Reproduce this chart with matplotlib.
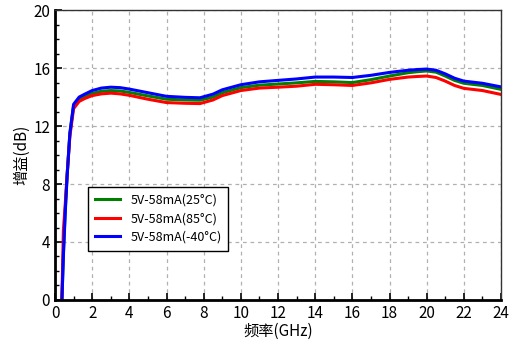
import matplotlib.pyplot as plt
from matplotlib.ticker import MultipleLocator

plt.rcParams['font.family'] = ['Noto Sans CJK SC', 'DejaVu Sans']

freq = [0.36, 0.45, 0.55, 0.65, 0.8, 1.0, 1.3, 1.6, 2.0, 2.5, 3.0, 3.5, 4, 5, 6, 7, 7.8,
        8.5, 9, 10, 11, 12, 13, 14, 15, 16, 17, 18, 19, 19.5, 20, 20.5, 21, 21.5, 22, 23, 24]

gain_25 = [-0.5, 3.2, 6.2, 8.6, 11.5, 13.4, 13.85, 14.05, 14.25, 14.4, 14.45, 14.42, 14.32,
           14.08, 13.85, 13.8, 13.78, 14.0, 14.3, 14.65, 14.82, 14.9, 14.98, 15.08, 15.05,
           15.0, 15.2, 15.45, 15.68, 15.75, 15.8, 15.72, 15.45, 15.15, 14.95, 14.8, 14.53]
gain_85 = [-0.5, 4.8, 6.6, 8.6, 11.3, 13.2, 13.7, 13.9, 14.1, 14.22, 14.27, 14.22, 14.12,
           13.85, 13.62, 13.57, 13.55, 13.8, 14.1, 14.45, 14.62, 14.68, 14.75, 14.88, 14.85,
           14.8, 14.98, 15.22, 15.38, 15.42, 15.45, 15.35, 15.1, 14.8, 14.6, 14.45, 14.18]
gain_m40 = [-0.5, 3.0, 6.0, 8.5, 11.5, 13.5, 14.0, 14.2, 14.45, 14.62, 14.68, 14.65, 14.55,
            14.3, 14.05, 13.98, 13.95, 14.2, 14.5, 14.85, 15.05, 15.15, 15.25, 15.38, 15.38,
            15.35, 15.5, 15.7, 15.85, 15.9, 15.93, 15.85, 15.6, 15.3, 15.1, 14.95, 14.7]

labels = ['5V-58mA(25°C)', '5V-58mA(85°C)', '5V-58mA(-40°C)']
colors = ['#008000', '#ff0000', '#0000ff']

fig = plt.figure(figsize=(5.17, 3.48), dpi=100)
ax = fig.add_axes([0.1064, 0.138, 0.8627, 0.833])

for g, lab, c in zip([gain_25, gain_85, gain_m40], labels, colors):
    ax.plot(freq, g, color=c, lw=2.2, label=lab)

ax.set_xlim(0, 24)
ax.set_ylim(0, 20)
ax.xaxis.set_major_locator(MultipleLocator(2))
ax.xaxis.set_minor_locator(MultipleLocator(1))
ax.yaxis.set_major_locator(MultipleLocator(4))
ax.yaxis.set_minor_locator(MultipleLocator(1))
ax.tick_params(which='major', direction='in', length=5, width=1.2, labelsize=11)
ax.tick_params(which='minor', direction='in', length=3, width=1)
ax.grid(True, which='major', ls=(0, (3, 3)), color='#b0b0b0', lw=0.9)

for s in ['left', 'bottom']:
    ax.spines[s].set_linewidth(2)
for s in ['top', 'right']:
    ax.spines[s].set_linewidth(1)
    ax.spines[s].set_color('#333333')

ax.set_xlabel('频率(GHz)', fontsize=11, labelpad=1)
ax.set_ylabel('增益(dB)', fontsize=11, labelpad=2)

leg = ax.legend(loc='lower left', bbox_to_anchor=(0.075, 0.17), fontsize=9,
                fancybox=False, edgecolor='black', framealpha=1, handlelength=2.0,
                borderpad=0.55, labelspacing=0.45, borderaxespad=0)
leg.get_frame().set_linewidth(1)

plt.savefig('out.png', dpi=100)
